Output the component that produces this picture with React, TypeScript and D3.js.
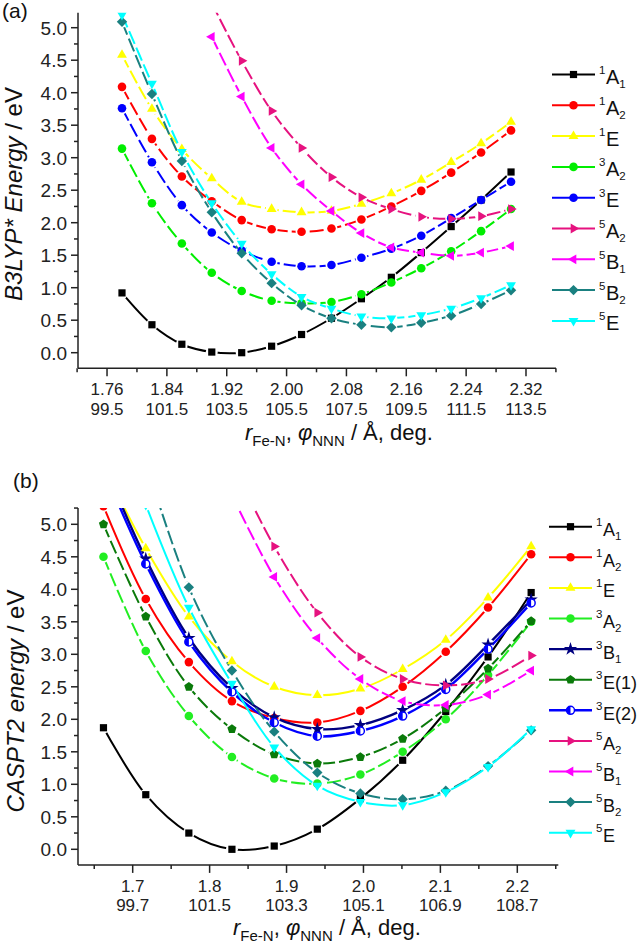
import React from "react";
import * as d3 from "d3";

// ---------- Panel (a) data: B3LYP* ----------
const xA = [1.78, 1.82, 1.86, 1.9, 1.94, 1.98, 2.02, 2.06, 2.1, 2.14, 2.18, 2.22, 2.26, 2.3];
const a_1A1 = [0.92, 0.43, 0.13, 0.01, 0.0, 0.1, 0.28, 0.53, 0.83, 1.16, 1.54, 1.94, 2.35, 2.78];
const a_1A2 = [4.09, 3.29, 2.71, 2.33, 2.04, 1.9, 1.86, 1.91, 2.05, 2.25, 2.49, 2.77, 3.08, 3.42];
const a_1E = [4.58, 3.75, 3.13, 2.68, 2.32, 2.21, 2.16, 2.18, 2.29, 2.45, 2.66, 2.93, 3.22, 3.55];
const a_3A2 = [3.14, 2.3, 1.68, 1.23, 0.95, 0.8, 0.76, 0.78, 0.9, 1.08, 1.3, 1.56, 1.87, 2.21];
const a_3E = [3.76, 2.93, 2.27, 1.85, 1.57, 1.4, 1.33, 1.35, 1.46, 1.6, 1.8, 2.07, 2.35, 2.63];
const a_5A2 = [null, null, null, 5.38, 4.49, 3.72, 3.15, 2.7, 2.39, 2.21, 2.09, 2.06, 2.1, 2.21];
const a_5B1 = [null, null, null, 4.86, 3.94, 3.15, 2.59, 2.18, 1.84, 1.62, 1.54, 1.49, 1.54, 1.64];
const a_5B2 = [5.09, 3.98, 2.95, 2.16, 1.53, 1.07, 0.73, 0.53, 0.43, 0.39, 0.46, 0.57, 0.75, 0.96];
const a_5E = [5.2, 4.14, 3.09, 2.3, 1.68, 1.21, 0.86, 0.68, 0.56, 0.53, 0.58, 0.68, 0.84, 1.04];
const xTicksA = [1.76, 1.84, 1.92, 2.0, 2.08, 2.16, 2.24, 2.32];
const xTickLabelsA = ["1.76", "1.84", "1.92", "2.00", "2.08", "2.16", "2.24", "2.32"];
const xTickAnglesA = ["99.5", "101.5", "103.5", "105.5", "107.5", "109.5", "111.5", "113.5"];

// ---------- Panel (b) data: CASPT2 ----------
const xB = [1.662, 1.717, 1.773, 1.829, 1.884, 1.94, 1.996, 2.051, 2.107, 2.162, 2.218];
const b_1A1 = [1.87, 0.84, 0.25, 0.0, 0.05, 0.31, 0.78, 1.37, 2.12, 2.96, 3.95];
const b_1A2 = [5.28, 3.85, 2.88, 2.28, 2.02, 1.95, 2.13, 2.5, 3.04, 3.72, 4.54];
const b_1E = [5.9, 4.63, 3.58, 2.89, 2.5, 2.37, 2.47, 2.77, 3.22, 3.87, 4.66];
const b_3A2 = [4.5, 3.05, 2.05, 1.42, 1.09, 1.01, 1.15, 1.5, 2.0, 2.68, 3.5];
const b_3B1 = [5.95, 4.47, 3.25, 2.48, 2.03, 1.85, 1.91, 2.14, 2.53, 3.15, 3.84];
const b_3E1 = [5.0, 3.58, 2.5, 1.85, 1.46, 1.32, 1.42, 1.7, 2.17, 2.78, 3.51];
const b_3E2 = [5.85, 4.39, 3.19, 2.42, 1.95, 1.74, 1.82, 2.05, 2.46, 3.08, 3.79];
const b_5A2 = [null, null, null, 5.95, 4.66, 3.64, 2.96, 2.62, 2.52, 2.62, 2.98];
const b_5B1 = [null, null, null, 5.45, 4.19, 3.25, 2.62, 2.28, 2.22, 2.38, 2.75];
const b_5B2 = [null, 5.95, 4.03, 2.75, 1.81, 1.18, 0.86, 0.77, 0.9, 1.28, 1.83];
const b_5E = [null, 5.3, 3.72, 2.55, 1.57, 0.98, 0.73, 0.68, 0.88, 1.27, 1.85];
const xTicksB = [1.7, 1.8, 1.9, 2.0, 2.1, 2.2];
const xTickLabelsB = ["1.7", "1.8", "1.9", "2.0", "2.1", "2.2"];
const xTickAnglesB = ["99.7", "101.5", "103.3", "105.1", "106.9", "108.7"];

const yTicks = [0, 0.5, 1, 1.5, 2, 2.5, 3, 3.5, 4, 4.5, 5];
const yMinor = [0.25, 0.75, 1.25, 1.75, 2.25, 2.75, 3.25, 3.75, 4.25, 4.75, 5.25];

const FONT = "'Liberation Sans', Arial, Helvetica, sans-serif";

type Sym = "square" | "circle" | "up" | "down" | "left" | "right" | "diamond" | "star" | "pentagon" | "half";
interface Series { sup: string; main: string; sub: string; color: string; sym: Sym; vals: (number | null)[]; dash: boolean; width?: number }

const seriesA: Series[] = [
  { sup: "1", main: "A", sub: "1", color: "#000000", sym: "square", vals: a_1A1, dash: false },
  { sup: "1", main: "A", sub: "2", color: "#ff0000", sym: "circle", vals: a_1A2, dash: true },
  { sup: "1", main: "E", sub: "", color: "#ffff00", sym: "up", vals: a_1E, dash: true },
  { sup: "3", main: "A", sub: "2", color: "#00ee00", sym: "circle", vals: a_3A2, dash: true },
  { sup: "3", main: "E", sub: "", color: "#0000ff", sym: "circle", vals: a_3E, dash: true },
  { sup: "5", main: "A", sub: "2", color: "#e6127f", sym: "right", vals: a_5A2, dash: true },
  { sup: "5", main: "B", sub: "1", color: "#ff00ff", sym: "left", vals: a_5B1, dash: true },
  { sup: "5", main: "B", sub: "2", color: "#1a8080", sym: "diamond", vals: a_5B2, dash: true },
  { sup: "5", main: "E", sub: "", color: "#00ffff", sym: "down", vals: a_5E, dash: true },
];

const seriesB: Series[] = [
  { sup: "1", main: "A", sub: "1", color: "#000000", sym: "square", vals: b_1A1, dash: false },
  { sup: "1", main: "A", sub: "2", color: "#ff0000", sym: "circle", vals: b_1A2, dash: false },
  { sup: "1", main: "E", sub: "", color: "#ffff00", sym: "up", vals: b_1E, dash: false },
  { sup: "3", main: "A", sub: "2", color: "#22ee22", sym: "circle", vals: b_3A2, dash: true },
  { sup: "3", main: "B", sub: "1", color: "#000080", sym: "star", vals: b_3B1, dash: false, width: 2.4 },
  { sup: "3", main: "E(1)", sub: "", color: "#0a7a0a", sym: "pentagon", vals: b_3E1, dash: true },
  { sup: "3", main: "E(2)", sub: "", color: "#0000ff", sym: "half", vals: b_3E2, dash: false, width: 2.4 },
  { sup: "5", main: "A", sub: "2", color: "#e6127f", sym: "right", vals: b_5A2, dash: true },
  { sup: "5", main: "B", sub: "1", color: "#ff00ff", sym: "left", vals: b_5B1, dash: true },
  { sup: "5", main: "B", sub: "2", color: "#1a8080", sym: "diamond", vals: b_5B2, dash: true },
  { sup: "5", main: "E", sub: "", color: "#00ffff", sym: "down", vals: b_5E, dash: false },
];

function Marker({ sym, x, y, color }: { sym: Sym; x: number; y: number; color: string }) {
  const t = `translate(${x},${y})`;
  switch (sym) {
    case "square":
      return <rect x={x - 3.6} y={y - 3.6} width={7.2} height={7.2} fill={color} />;
    case "circle":
      return <circle cx={x} cy={y} r={4.3} fill={color} />;
    case "half":
      return (
        <g transform={t}>
          <circle r={4} fill="#ffffff" stroke={color} strokeWidth={1.5} />
          <path d="M0,-4 A4,4 0 0,0 0,4 Z" fill={color} />
        </g>
      );
    case "up":
    case "down":
    case "left":
    case "right": {
      const rot = { up: 0, down: 180, right: 90, left: -90 }[sym];
      const p = d3.symbol().type(d3.symbolTriangle).size(42)() as string;
      return <path d={p} transform={`${t} rotate(${rot})`} fill={color} />;
    }
    case "diamond":
      return <path d="M0,-5.2L5.2,0L0,5.2L-5.2,0Z" transform={t} fill={color} />;
    case "star": {
      const p = d3.symbol().type(d3.symbolStar).size(55)() as string;
      return <path d={p} transform={t} fill={color} />;
    }
    case "pentagon": {
      const pts = d3.range(5).map((i) => {
        const a = -Math.PI / 2 + (i * 2 * Math.PI) / 5;
        return `${(4.8 * Math.cos(a)).toFixed(2)},${(4.8 * Math.sin(a)).toFixed(2)}`;
      });
      return <polygon points={pts.join(" ")} transform={t} fill={color} />;
    }
  }
  return null;
}

interface PanelProps {
  id: string;
  series: Series[];
  xs: number[];
  xDomain: [number, number];
  yDomain: [number, number];
  xRange: [number, number];
  yRange: [number, number];
  xTicks: number[];
  xTickLabels: string[];
  xTickAngles: string[];
  xMinor: number[];
  legendX: number;
  legendY0: number;
  legendStep: number;
  legendFont: number;
  panelLabel: string;
  panelLabelX: number;
  panelLabelY: number;
  yTitleItalic: string;
  yTitleX: number;
  yTitleY: number;
  xTitleX: number;
  xTitleY: number;
}

function Panel(p: PanelProps) {
  const x = d3.scaleLinear().domain(p.xDomain).range(p.xRange);
  const y = d3.scaleLinear().domain(p.yDomain).range(p.yRange);
  const [x0, x1] = p.xRange;
  const [yb, yt] = p.yRange;
  const line = d3
    .line<[number, number | null]>()
    .defined((d) => d[1] != null)
    .x((d) => x(d[0]))
    .y((d) => y(d[1] as number))
    .curve(d3.curveCatmullRom.alpha(0.5));
  const clipId = `clip-${p.id}`;
  return (
    <g fontFamily={FONT}>
      <defs>
        <clipPath id={clipId}>
          <rect x={x0} y={yt} width={x1 - x0 + 2} height={yb - yt} />
        </clipPath>
        {p.series.map((s, i) => (
          <mask id={`m-${p.id}-${i}`} key={i} maskUnits="userSpaceOnUse" x={0} y={0} width={638} height={947}>
            <rect x={0} y={0} width={638} height={947} fill="#fff" />
            {s.vals.map((v, j) =>
              v == null ? null : <circle key={j} cx={x(p.xs[j])} cy={y(v)} r={6} fill="#000" />
            )}
          </mask>
        ))}
      </defs>
      <g clipPath={`url(#${clipId})`}>
        {p.series.map((s, i) => (
          <path
            key={i}
            d={line(p.xs.map((xv, j) => [xv, s.vals[j]]) as [number, number | null][]) || ""}
            fill="none"
            stroke={s.color}
            strokeWidth={s.width ?? 2}
            strokeDasharray={s.dash ? "14 4" : undefined}
            mask={`url(#m-${p.id}-${i})`}
          />
        ))}
        {p.series.map((s, i) => (
          <g key={i}>
            {s.vals.map((v, j) =>
              v == null ? null : <Marker key={j} sym={s.sym} x={x(p.xs[j])} y={y(v)} color={s.color} />
            )}
          </g>
        ))}
      </g>
      {/* axes */}
      <line x1={x0} x2={x0} y1={yb} y2={yt} stroke="#222" strokeWidth={1.5} />
      <line x1={x0} x2={x1} y1={yb} y2={yb} stroke="#222" strokeWidth={1.5} />
      {yTicks.map((t) => (
        <g key={t}>
          <line x1={x0 - 7} x2={x0} y1={y(t)} y2={y(t)} stroke="#222" strokeWidth={1.5} />
          <text x={x0 - 11} y={y(t) + 7} textAnchor="end" fontSize={19} fill="#222">
            {t.toFixed(1)}
          </text>
        </g>
      ))}
      {yMinor.filter((t) => y(t) >= yt - 0.5).map((t) => (
        <line key={t} x1={x0 - 4} x2={x0} y1={y(t)} y2={y(t)} stroke="#222" strokeWidth={1.5} />
      ))}
      {p.xTicks.map((t, i) => (
        <g key={t}>
          <line x1={x(t)} x2={x(t)} y1={yb} y2={yb + 8} stroke="#222" strokeWidth={1.5} />
          <text x={x(t)} y={yb + 27} textAnchor="middle" fontSize={17} fill="#222">
            {p.xTickLabels[i]}
          </text>
          <text x={x(t)} y={yb + 46.2} textAnchor="middle" fontSize={17} fill="#222">
            {p.xTickAngles[i]}
          </text>
        </g>
      ))}
      {p.xMinor.map((t) => (
        <line key={t} x1={x(t)} x2={x(t)} y1={yb} y2={yb + 4} stroke="#222" strokeWidth={1.5} />
      ))}
      {/* legend */}
      {p.series.map((s, i) => {
        const ly = p.legendY0 + i * p.legendStep;
        const f = p.legendFont;
        return (
          <g key={i}>
            <line x1={p.legendX} x2={p.legendX + 43} y1={ly} y2={ly} stroke={s.color} strokeWidth={s.width ?? 2} />
            <Marker sym={s.sym} x={p.legendX + 21.5} y={ly} color={s.color} />
            <text x={p.legendX + 47} y={ly + 9.5} fontSize={f} fill="#111">
              <tspan fontSize={11.5} dy={-10}>{s.sup}</tspan>
              <tspan fontSize={f} dy={10} dx={0.5}>{s.main}</tspan>
              {s.sub ? <tspan fontSize={11.5} dy={4}>{s.sub}</tspan> : null}
            </text>
          </g>
        );
      })}
      {/* panel label */}
      <text x={p.panelLabelX} y={p.panelLabelY} fontSize={21} fill="#111">{p.panelLabel}</text>
      {/* y title */}
      <text transform={`translate(${p.yTitleX},${p.yTitleY}) rotate(-90)`} textAnchor="middle" fontSize={24} fill="#111">
        <tspan fontStyle="italic">{p.yTitleItalic}</tspan>
        <tspan> / eV</tspan>
      </text>
      {/* x title */}
      <text x={p.xTitleX} y={p.xTitleY} fontSize={22} fill="#111">
        <tspan fontStyle="italic">r</tspan>
        <tspan fontSize={15} dy={6}>Fe-N</tspan>
        <tspan dy={-6}>, </tspan>
        <tspan fontStyle="italic">φ</tspan>
        <tspan fontSize={15} dy={6}>NNN</tspan>
        <tspan dy={-6}> / Å, deg.</tspan>
      </text>
    </g>
  );
}

export default function App() {
  const minorA = [1.72, 1.8, 1.88, 1.96, 2.04, 2.12, 2.2, 2.28, 2.36];
  const minorB = [1.65, 1.75, 1.85, 1.95, 2.05, 2.15, 2.25];
  return (
    <svg width={638} height={947} style={{ position: "absolute", left: 0, top: 0, background: "#fff" }}>
      <rect width={638} height={947} fill="#fff" />
      <Panel
        id="a"
        series={seriesA}
        xs={xA}
        xDomain={[1.7212, 2.3601]}
        yDomain={[-0.24, 5.23]}
        xRange={[78, 556]}
        yRange={[368.3, 12.75]}
        xTicks={xTicksA}
        xTickLabels={xTickLabelsA}
        xTickAngles={xTickAnglesA}
        xMinor={minorA}
        legendX={552}
        legendY0={74.5}
        legendStep={30.8}
        legendFont={20}
        panelLabel="(a)"
        panelLabelX={2}
        panelLabelY={18}
        yTitleItalic="B3LYP* Energy"
        yTitleX={22}
        yTitleY={194}
        xTitleX={245}
        xTitleY={440}
      />
      <Panel
        id="b"
        series={seriesB}
        xs={xB}
        xDomain={[1.62889, 2.2533]}
        yDomain={[-0.24, 5.25]}
        xRange={[78, 558.3]}
        yRange={[864.9, 508.05]}
        xTicks={xTicksB}
        xTickLabels={xTickLabelsB}
        xTickAngles={xTickAnglesB}
        xMinor={minorB}
        legendX={549}
        legendY0={526.7}
        legendStep={30.6}
        legendFont={18}
        panelLabel="(b)"
        panelLabelX={13}
        panelLabelY={488}
        yTitleItalic="CASPT2 energy"
        yTitleX={24}
        yTitleY={701}
        xTitleX={233}
        xTitleY={935}
      />
    </svg>
  );
}
